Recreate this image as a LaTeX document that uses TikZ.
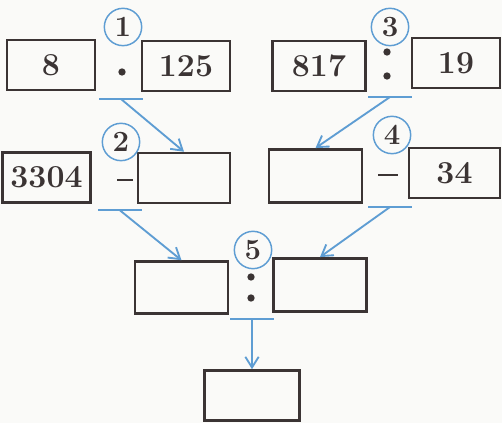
\documentclass[tikz,border=0pt]{standalone}
\usetikzlibrary{arrows.meta}
\definecolor{ink}{HTML}{3B3434}
\definecolor{lblue}{HTML}{5E9DD3}
\definecolor{paper}{HTML}{FAFAF8}

\begin{document}
\begin{tikzpicture}[x=0.75pt,y=-0.75pt,
  numbox/.style={rectangle,draw=ink,line width=1.9pt,minimum width=66pt,minimum height=37.5pt,inner sep=0pt,text=ink,font=\fontsize{24}{28}\selectfont\bfseries},
  stepnum/.style={circle,draw=lblue,line width=1.1pt,minimum size=28pt,inner sep=0pt,text=ink,font=\fontsize{22}{26}\selectfont\bfseries},
  bar/.style={rectangle,fill=lblue,minimum width=33pt,minimum height=1.6pt,inner sep=0pt},
  opdot/.style={circle,fill=ink,minimum size=5.5pt,inner sep=0pt},
  opminus/.style={rectangle,fill=ink,minimum width=12pt,minimum height=2.2pt,inner sep=0pt},
  >={Straight Barb[length=8pt,width=10pt]}]
\useasboundingbox[fill=paper] (0,0) rectangle (502,423);

% step 1 and step 3
\path (51,65) node[numbox] (a8) {8};
\path (186,66) node[numbox] (a125) {125};
\path (123,27) node[stepnum] (s1) {1};
\path (122,72) node[opdot] (m1) {};
\path (121,99) node[bar] (u1) {};

\path (319,66) node[numbox,minimum width=70pt] (a817) {817};
\path (456,63) node[numbox] (a19) {19};
\path (390,27) node[stepnum] (s3) {3};
\path (387,52) node[opdot] (d3a) {};
\path (387,76) node[opdot] (d3b) {};
\path (390,97) node[bar] (u3) {};

% step 2 and step 4
\path (46.5,177.5) node[numbox] (a3304) {3304};
\path (184,178) node[numbox,minimum width=69pt] (r1) {};
\path (121,142) node[stepnum] (s2) {2};
\path (124.5,180) node[opminus] (m2) {};
\path (119.5,210) node[bar] (u2) {};
\draw[->,lblue,line width=1.4pt] (u1.center) -- (r1.north);

\path (315.5,176) node[numbox,minimum width=70pt,minimum height=40pt] (r3) {};
\path (454.5,173) node[numbox,minimum width=68pt] (a34) {34};
\path (392,135) node[stepnum] (s4) {4};
\path (387.5,175) node[opminus,minimum width=15pt] (m4) {};
\path (390,207) node[bar] (u4) {};
\draw[->,lblue,line width=1.4pt] (u3.center) -- (r3.north);

% step 5
\path (181.5,287.5) node[numbox,minimum width=70pt,minimum height=39pt] (r2) {};
\path (320,285) node[numbox,minimum width=70pt,minimum height=40pt] (r4) {};
\path (253,250) node[stepnum] (s5) {5};
\path (251,277) node[opdot] (d5a) {};
\path (251,298) node[opdot] (d5b) {};
\path (252,319) node[bar] (u5) {};
\draw[->,lblue,line width=1.4pt] (u2.center) -- (r2.north);
\draw[->,lblue,line width=1.4pt] (u4.center) -- (r4.north);

\path (252,395.5) node[numbox,minimum width=71pt] (r5) {};
\draw[->,lblue,line width=1.4pt] (u5.center) -- (r5.north);
\end{tikzpicture}
\end{document}
